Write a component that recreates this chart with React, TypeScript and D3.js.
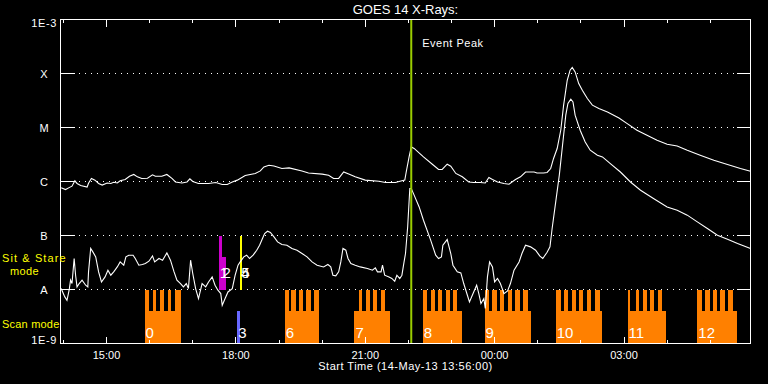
import React, { useEffect, useRef } from 'react';
import * as d3 from 'd3';

const START = new Date(Date.UTC(2013, 4, 14, 13, 56, 0));
const SPAN_MIN = 960;
const PEAK_MIN = 488;

// GOES long channel (1-8 A): [minutes after start, flux W/m^2]
const longChannel: [number, number][] = [
  [1, 7.7e-7], [7, 7.1e-7], [12, 7.7e-7], [16, 8.2e-7], [20, 1.03e-6], [23, 9.2e-7], [28, 8.4e-7], [37, 7.9e-7],
  [39, 9.3e-7], [43, 1.14e-6], [48, 1.06e-6], [53, 9.2e-7], [58, 8.6e-7], [65, 9.4e-7], [70, 9.2e-7], [74, 9.7e-7],
  [79, 9.4e-7], [83, 1.03e-6], [90, 1.09e-6], [96, 1.25e-6], [102, 1.35e-6], [107, 1.22e-6], [113, 1.14e-6],
  [121, 1.15e-6], [128, 1.33e-6], [132, 1.25e-6], [141, 1.25e-6], [148, 1.35e-6], [155, 1.14e-6], [160, 9.8e-7],
  [169, 9.4e-7], [176, 9.8e-7], [180, 1.12e-6], [184, 1.0e-6], [192, 9.2e-7], [206, 9.2e-7], [216, 9.6e-7],
  [225, 8.8e-7], [232, 8.8e-7], [239, 9.8e-7], [246, 1.06e-6], [257, 1.29e-6], [271, 1.41e-6], [278, 1.57e-6],
  [283, 1.86e-6], [290, 2.0e-6], [297, 1.94e-6], [308, 1.74e-6], [318, 1.79e-6], [336, 1.57e-6], [345, 1.44e-6],
  [364, 1.37e-6], [373, 1.31e-6], [380, 1.14e-6], [387, 1.14e-6], [394, 1.5e-6], [401, 1.37e-6], [410, 1.22e-6],
  [424, 1.06e-6], [443, 1.01e-6], [452, 9.6e-7], [466, 9.6e-7], [475, 1.03e-6], [479, 1.06e-6], [481, 1.5e-6],
  [485, 2.85e-6], [488, 4.37e-6], [492, 4.1e-6], [505, 2.85e-6], [519, 2.0e-6], [526, 1.67e-6], [531, 1.67e-6],
  [538, 2.09e-6], [543, 1.92e-6], [550, 1.41e-6], [559, 1.22e-6], [568, 9.8e-7], [575, 9.6e-7], [584, 9.6e-7],
  [591, 9.4e-7], [596, 1.19e-6], [601, 1.09e-6], [608, 9.8e-7], [617, 9.2e-7], [624, 8.9e-7], [633, 1.09e-6],
  [640, 1.22e-6], [647, 1.5e-6], [659, 1.5e-6], [663, 1.44e-6], [672, 1.44e-6], [677, 1.47e-6], [682, 1.74e-6],
  [686, 2.67e-6], [691, 4.08e-6], [696, 8.9e-6], [700, 2.59e-5], [705, 7.5e-5], [709, 1.15e-4], [712, 1.29e-4],
  [716, 1.07e-4], [721, 6.5e-5], [726, 4.9e-5], [733, 3.44e-5], [740, 2.59e-5], [749, 2.25e-5], [761, 1.94e-5],
  [777, 1.5e-5], [788, 1.19e-5], [802, 8.9e-6], [816, 7.2e-6], [830, 5.8e-6], [844, 4.9e-6], [858, 4.56e-6],
  [872, 3.8e-6], [890, 3.07e-6], [909, 2.48e-6], [928, 2.06e-6], [946, 1.74e-6], [960, 1.55e-6],
];

// GOES short channel (0.5-4 A)
const shortChannel: [number, number][] = [
  [1, 1.04e-8], [3, 9.0e-9], [6, 7.3e-9], [9, 6.3e-9], [12, 9.7e-9], [14, 1.49e-8], [16, 1.29e-8], [19, 3.75e-8],
  [21, 1.84e-8], [23, 1.12e-8], [26, 1.29e-8], [30, 1.49e-8], [35, 1.2e-8], [38, 1.12e-8], [39, 2.12e-8],
  [42, 5.75e-8], [45, 4.97e-8], [49, 4.02e-8], [53, 2.12e-8], [57, 1.38e-8], [62, 1.71e-8], [66, 2.28e-8],
  [70, 1.84e-8], [74, 2.12e-8], [79, 2.62e-8], [83, 3.24e-8], [88, 2.82e-8], [91, 4.02e-8], [95, 4.32e-8],
  [101, 4.32e-8], [104, 3.75e-8], [109, 2.82e-8], [114, 2.9e-8], [118, 3.03e-8], [123, 3.34e-8], [128, 4.19e-8],
  [131, 3.24e-8], [137, 3.75e-8], [142, 3.49e-8], [148, 4.76e-8], [153, 3.49e-8], [158, 2.12e-8], [162, 1.49e-8],
  [167, 1.29e-8], [171, 1.12e-8], [175, 1.29e-8], [178, 1.04e-8], [181, 3.49e-8], [184, 1.98e-8], [188, 1.04e-8],
  [192, 6.8e-9], [197, 1.29e-8], [202, 1.12e-8], [206, 1.38e-8], [211, 1.71e-8], [215, 1.2e-8], [219, 9.7e-9],
  [223, 8.4e-9], [225, 5.1e-9], [229, 6.8e-9], [233, 9.0e-9], [239, 1.04e-8], [243, 1.84e-8], [247, 2.82e-8],
  [250, 3.24e-8], [255, 4.02e-8], [259, 4.32e-8], [263, 3.75e-8], [268, 4.32e-8], [273, 5.34e-8], [277, 6.61e-8],
  [281, 8.8e-8], [284, 1.09e-7], [288, 1.2e-7], [292, 1.14e-7], [297, 9.4e-8], [302, 7.6e-8], [308, 6.8e-8],
  [315, 6.6e-8], [322, 5.75e-8], [329, 5.34e-8], [336, 4.64e-8], [343, 4.02e-8], [350, 3.24e-8], [357, 2.82e-8],
  [366, 2.62e-8], [372, 2.9e-8], [376, 2.62e-8], [379, 1.84e-8], [383, 1.79e-8], [387, 2.12e-8], [390, 3.24e-8],
  [393, 5.75e-8], [397, 5.34e-8], [400, 3.75e-8], [404, 3.03e-8], [410, 2.82e-8], [417, 2.62e-8], [427, 2.45e-8],
  [434, 2.28e-8], [438, 2.51e-8], [441, 2.12e-8], [446, 2.12e-8], [448, 2.82e-8], [451, 1.84e-8], [457, 1.71e-8],
  [461, 1.6e-8], [465, 1.42e-8], [468, 1.84e-8], [472, 1.6e-8], [475, 1.84e-8], [478, 3.24e-8], [480, 4.64e-8],
  [483, 1.44e-7], [486, 7.4e-7], [488, 7.4e-7], [492, 5.6e-7], [499, 3.38e-7], [505, 1.92e-7], [515, 8.2e-8],
  [522, 4.32e-8], [526, 3.75e-8], [530, 4.02e-8], [532, 6.6e-8], [538, 8.4e-8], [543, 4.64e-8], [546, 2.82e-8],
  [552, 2.12e-8], [557, 2.03e-8], [561, 1.29e-8], [566, 7.9e-9], [569, 5.9e-9], [574, 8.4e-9], [579, 1.2e-8],
  [582, 8.4e-9], [585, 5.5e-9], [589, 6.8e-9], [591, 4.45e-9], [594, 1.71e-8], [597, 3.24e-8], [601, 2.62e-8],
  [604, 1.38e-8], [608, 1.6e-8], [612, 1.29e-8], [617, 8.4e-9], [622, 9.4e-9], [626, 1.29e-8], [631, 2.28e-8],
  [638, 3.24e-8], [642, 4.64e-8], [647, 6.6e-8], [654, 6.16e-8], [661, 5.34e-8], [667, 4.14e-8], [671, 3.75e-8],
  [677, 4.9e-8], [681, 6.16e-8], [684, 1.35e-7], [689, 4.19e-7], [694, 1.31e-6], [698, 4.08e-6], [703, 1.69e-5],
  [706, 2.78e-5], [710, 3.34e-5], [713, 2.98e-5], [716, 1.69e-5], [723, 8.9e-6], [730, 5.4e-6], [737, 3.8e-6],
  [747, 3.07e-6], [754, 2.85e-6], [765, 2.15e-6], [779, 1.5e-6], [793, 9.8e-7], [807, 6.9e-7], [825, 4.85e-7],
  [844, 3.38e-7], [858, 2.94e-7], [872, 2.38e-7], [886, 1.79e-7], [900, 1.35e-7], [914, 1.01e-7], [928, 8.5e-8],
  [942, 7.1e-8], [960, 5.75e-8],
];

// observations (minutes after start)
const obsLabels = ['0', '1', '2', '3', '4', '5', '6', '7', '8', '9', '10', '11', '12'];
const obsMode = ['scan', 'ss', 'ss', 'scan', 'ss', 'ss', 'scan', 'scan', 'scan', 'scan', 'scan', 'scan', 'scan'];
const obsStart = [117, 220, 224, 246, 250, 250, 312, 409, 504, 590, 689, 789, 886];
const obsEnd = [167, 224, 230, 250, 253, 253, 360, 458, 559, 655, 754, 843, 941];
const obsTeeth: [number, number][][] = [
  [[117, 123], [128, 133], [138, 144], [149, 154], [159, 167]],
  [[220, 224]],
  [],
  [],
  [[250, 253]],
  [[250, 253]],
  [[312, 318], [321, 327], [332, 337], [342, 348], [352, 360]],
  [[415, 420], [425, 431], [435, 441], [446, 451]],
  [[504, 510], [515, 521], [525, 531], [536, 542], [546, 552]],
  [[590, 596], [601, 607], [611, 617], [622, 628], [633, 639], [644, 650]],
  [[689, 696], [700, 706], [711, 717], [721, 727], [732, 738], [743, 750]],
  [[789, 793], [800, 805], [810, 816], [820, 826], [831, 837]],
  [[886, 893], [897, 903], [908, 914], [918, 924], [929, 936]],
];

const levelValues = [1e-9, 1e-8, 1e-7, 1e-6, 1e-5, 1e-4, 1e-3];
const levelLabels = ['1E-9', 'A', 'B', 'C', 'M', 'X', '1E-3'];

const OBS_COLOR: Record<string, string> = { '1': '#cc00cc', '2': '#cc00cc', '3': '#6868ff', '4': '#ffff00', '5': '#ffff00' };
const SCAN_ORANGE = '#ff8000';
const FONT = '"Liberation Sans", Arial, sans-serif';

export default function App() {
  const ref = useRef<SVGSVGElement>(null);

  useEffect(() => {
    document.body.style.margin = '0';
    document.body.style.background = '#000';
    const svg = d3.select(ref.current);
    svg.selectAll('*').remove();

    const W = 768;
    const H = 384;
    const margin = { left: 60.5, right: 17.5, top: 19.5, bottom: 40.5 };
    const x0 = margin.left;
    const x1 = W - margin.right;
    const y0 = margin.top;
    const y1 = H - margin.bottom;
    const t = (m: number) => d3.utcMinute.offset(START, m);

    const x = d3.scaleUtc().domain([START, t(SPAN_MIN)]).range([x0, x1]);
    const y = d3.scaleLog().domain([1e-9, 1e-3]).range([y1, y0]);

    svg.append('rect').attr('width', W).attr('height', H).attr('fill', '#000');

    svg.append('defs').append('clipPath').attr('id', 'plotclip')
      .append('rect').attr('x', x0).attr('y', y0).attr('width', x1 - x0).attr('height', y1 - y0);

    // dotted level lines
    const inner = levelValues.slice(1, -1);
    svg.append('g').selectAll('line').data(inner).join('line')
      .attr('x1', x0).attr('x2', x1)
      .attr('y1', (d) => y(d)).attr('y2', (d) => y(d))
      .attr('stroke', '#fff').attr('stroke-dasharray', '1 5')
      .attr('shape-rendering', 'crispEdges');

    // observation blocks
    const obsG = svg.append('g').attr('shape-rendering', 'crispEdges');
    obsLabels.forEach((lab, i) => {
      const base = obsMode[i] === 'scan' ? y(1e-9) : y(1e-8);
      const top = obsMode[i] === 'scan' ? y(1e-8) : y(1e-7);
      const blockTop = base - (base - top) * 0.61;
      const color = OBS_COLOR[lab] || SCAN_ORANGE;
      const xs = x(t(obsStart[i]));
      const xe = x(t(obsEnd[i]));
      obsG.append('rect').attr('x', xs).attr('y', blockTop).attr('width', xe - xs).attr('height', base - blockTop)
        .attr('fill', color);
      obsG.selectAll(null).data(obsTeeth[i]).join('rect')
        .attr('x', (d) => x(t(d[0])))
        .attr('width', (d) => x(t(d[1])) - x(t(d[0])))
        .attr('y', top).attr('height', blockTop - top + 1)
        .attr('fill', color);
    });

    // flux curves
    const line = d3.line<[number, number]>()
      .x((d) => x(t(d[0])))
      .y((d) => y(d[1]));
    const curves = svg.append('g').attr('clip-path', 'url(#plotclip)');
    [longChannel, shortChannel].forEach((data) => {
      curves.append('path').datum(data).attr('d', line)
        .attr('fill', 'none').attr('stroke', '#fff').attr('stroke-width', 1.1);
    });

    // observation labels
    obsLabels.forEach((lab, i) => {
      const base = obsMode[i] === 'scan' ? y(1e-9) : y(1e-8);
      svg.append('text')
        .attr('x', x(t(obsStart[i])) + 1)
        .attr('y', base - (obsMode[i] === 'scan' ? 5.5 : 12))
        .attr('fill', '#fff').attr('font-family', FONT).attr('font-size', 15)
        .text(lab);
    });

    // event peak
    const xp = x(t(PEAK_MIN));
    svg.append('line').attr('x1', xp).attr('x2', xp).attr('y1', y0).attr('y2', y1)
      .attr('stroke', '#9acd00').attr('stroke-width', 2);
    svg.append('text').attr('x', xp + 11).attr('y', 47)
      .attr('fill', '#fff').attr('font-family', FONT).attr('font-size', 11).attr('letter-spacing', 0.5)
      .text('Event Peak');

    // frame
    svg.append('rect').attr('x', x0).attr('y', y0).attr('width', x1 - x0).attr('height', y1 - y0)
      .attr('fill', 'none').attr('stroke', '#fff').attr('shape-rendering', 'crispEdges');

    // y ticks both sides
    const yt = svg.append('g').attr('stroke', '#fff').attr('shape-rendering', 'crispEdges');
    inner.forEach((v) => {
      yt.append('line').attr('x1', x0).attr('x2', x0 + 14).attr('y1', y(v)).attr('y2', y(v));
      yt.append('line').attr('x1', x1 - 14).attr('x2', x1).attr('y1', y(v)).attr('y2', y(v));
    });

    // y labels
    levelValues.forEach((v, i) => {
      const lab = levelLabels[i];
      const txt = svg.append('text').attr('fill', '#fff').attr('font-family', FONT).attr('font-size', 11).text(lab);
      if (i === 0) txt.attr('x', 57).attr('y', y(v)).attr('text-anchor', 'end').attr('letter-spacing', 0.6);
      else if (i === levelValues.length - 1) txt.attr('x', 57).attr('y', y(v) + 7.5).attr('text-anchor', 'end').attr('letter-spacing', 0.6);
      else txt.attr('x', 44).attr('y', y(v) + 4).attr('text-anchor', 'middle');
    });

    // time axes
    const majors = d3.utcHour.every(3)!.range(START, t(SPAN_MIN));
    const minors = d3.utcHour.every(1)!.range(START, t(SPAN_MIN));
    const fmt = d3.utcFormat('%H:%M');
    const styleAxis = (g: d3.Selection<SVGGElement, unknown, null, undefined>) => {
      g.select('.domain').remove();
      g.selectAll('.tick line').attr('stroke', '#fff').attr('shape-rendering', 'crispEdges');
      g.selectAll('.tick text').attr('fill', '#fff').attr('font-family', FONT).attr('font-size', 11);
    };
    svg.append('g').attr('transform', `translate(0,${y1})`)
      .call(d3.axisBottom(x).tickValues(minors).tickSize(-3.5).tickFormat(() => '').offset(0))
      .call(styleAxis);
    svg.append('g').attr('transform', `translate(0,${y1})`)
      .call(d3.axisBottom(x).tickValues(majors).tickSize(-7).tickPadding(8).tickFormat((d) => fmt(d as Date)).offset(0))
      .call(styleAxis);
    svg.append('g').attr('transform', `translate(0,${y0})`)
      .call(d3.axisTop(x).tickValues(minors).tickSize(-3.5).tickFormat(() => '').offset(0))
      .call(styleAxis);
    svg.append('g').attr('transform', `translate(0,${y0})`)
      .call(d3.axisTop(x).tickValues(majors).tickSize(-7).tickFormat(() => '').offset(0))
      .call(styleAxis);

    // titles
    const mid = (x0 + x1) / 2;
    svg.append('text').attr('x', mid).attr('y', 14).attr('text-anchor', 'middle')
      .attr('fill', '#fff').attr('font-family', FONT).attr('font-size', 13)
      .text('GOES 14 X-Rays:');
    svg.append('text').attr('x', mid).attr('y', 370).attr('text-anchor', 'middle')
      .attr('fill', '#fff').attr('font-family', FONT).attr('font-size', 11).attr('letter-spacing', 0.5)
      .text(`Start Time (${d3.utcFormat('%d-%b-%y %H:%M:%S')(START)})`);

    // mode labels
    const yellow = (tx: string, xx: number, yy: number, anchor = 'start') =>
      svg.append('text').attr('x', xx).attr('y', yy).attr('text-anchor', anchor)
        .attr('fill', '#ffff00').attr('font-family', FONT).attr('font-size', 11).text(tx);
    yellow('Sit & Stare', 2, 262).attr('letter-spacing', 1.1);
    yellow('mode', 24.5, 275, 'middle').attr('letter-spacing', 0.4);
    yellow('Scan mode', 2, 328).attr('letter-spacing', 0.2);
  }, []);

  return <svg ref={ref} width={768} height={384} style={{ display: 'block', background: '#000' }} />;
}
